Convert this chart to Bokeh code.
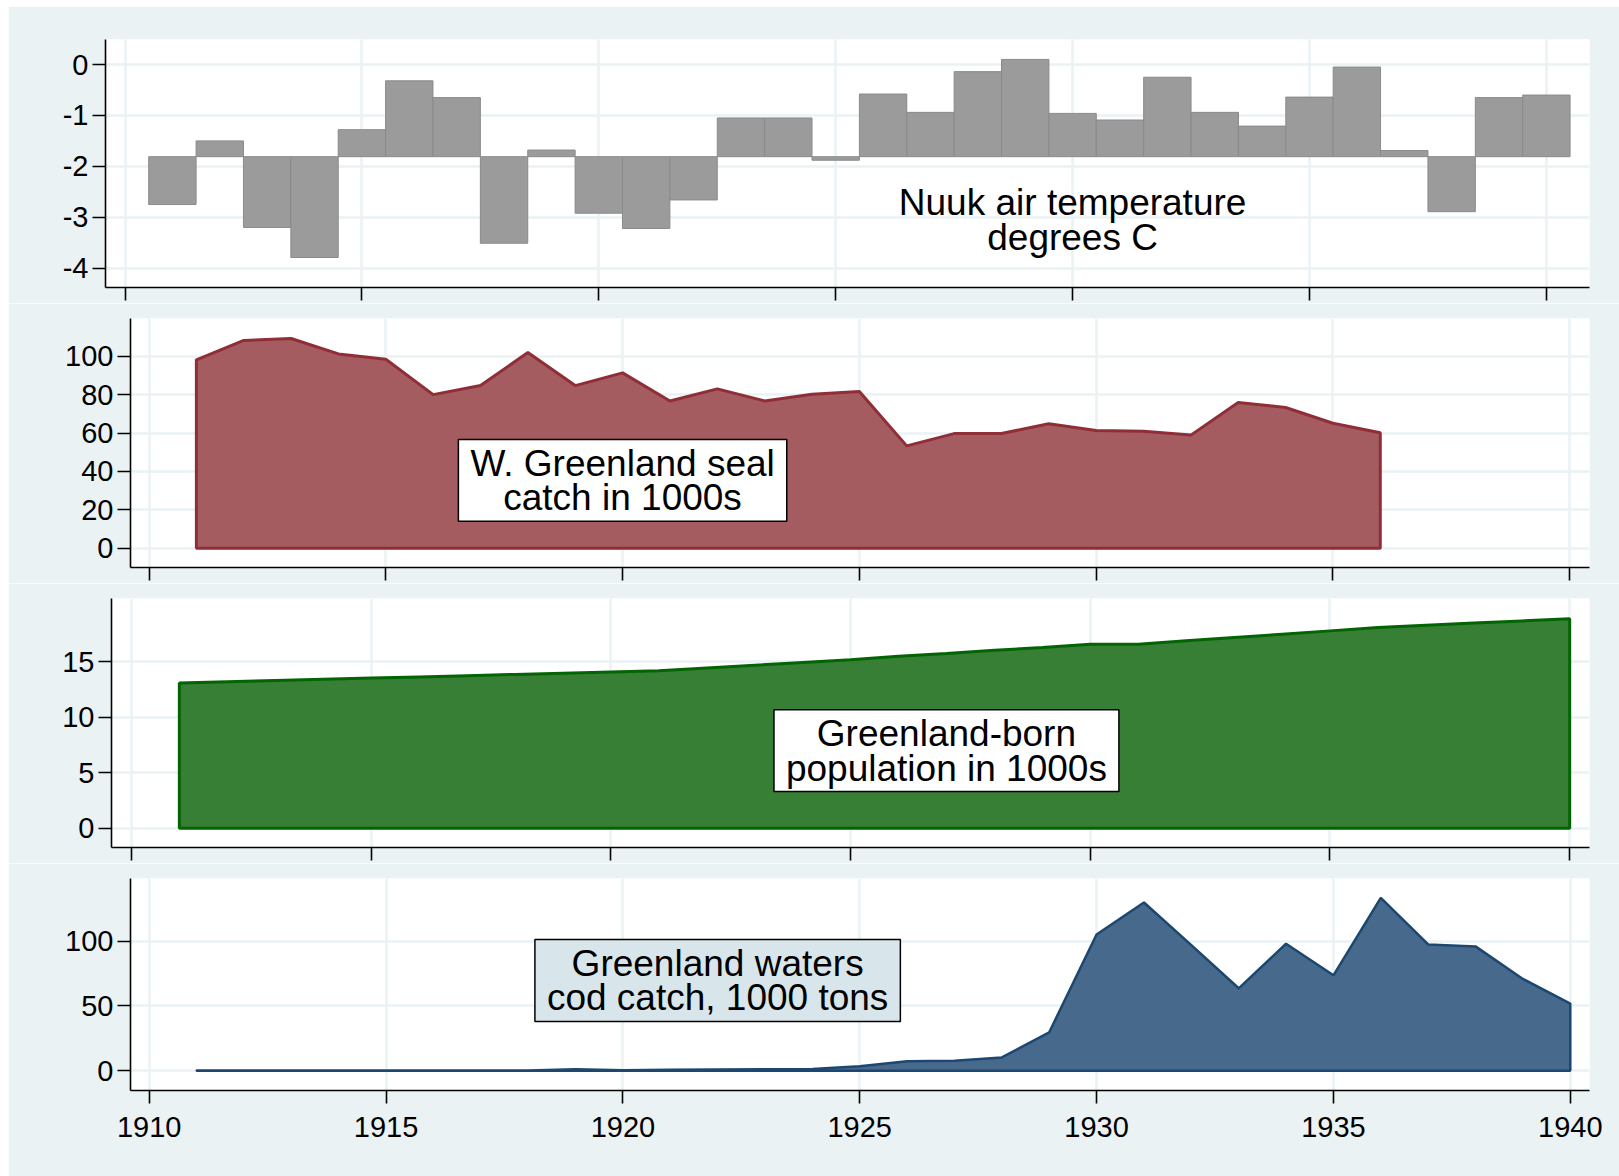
import numpy as np
from bokeh.plotting import figure
from bokeh.layouts import column
from bokeh.models import Range1d, FixedTicker, Label
from bokeh.embed import file_html
from bokeh.resources import INLINE

# ---------------- data ----------------
years = list(range(1911, 1941))
temp_c = [-2.75, -1.50, -3.20, -3.79, -1.28, -0.32, -0.65, -3.51, -1.68, -2.92,
          -3.22, -2.66, -1.05, -1.05, -1.88, -0.58, -0.94, -0.14, 0.10, -0.96,
          -1.09, -0.25, -0.94, -1.21, -0.64, -0.05, -1.69, -2.89, -0.65, -0.60]
temp_base = -1.81

seal_years = list(range(1911, 1937))
seal_catch = [98.1, 108.2, 109.2, 101.2, 98.4, 80.0, 84.7, 101.9, 84.7, 91.3,
              76.7, 83.0, 76.7, 80.2, 81.6, 53.3, 59.7, 59.7, 64.8, 61.3,
              60.9, 58.9, 75.9, 73.3, 65.1, 60.1]

pop_years = list(range(1911, 1941))
population = [13.10, 13.21, 13.32, 13.43, 13.54, 13.65, 13.76, 13.87, 13.98, 14.09,
              14.20, 14.45, 14.70, 14.95, 15.20, 15.50, 15.75, 16.05, 16.30, 16.60,
              16.60, 16.90, 17.20, 17.50, 17.80, 18.10, 18.30, 18.50, 18.70, 18.90]

cod_years = list(range(1911, 1941))
cod_catch = [0.2, 0.2, 0.2, 0.2, 0.2, 0.2, 0.2, 0.3, 1.2, 0.4,
             0.8, 1.0, 1.2, 1.4, 3.6, 7.4, 7.7, 10.3, 29.7, 105.1,
             129.7, 96.9, 63.6, 97.9, 73.6, 133.3, 97.4, 95.9, 70.8, 51.8]

x_ticks = [1910, 1915, 1920, 1925, 1930, 1935, 1940]
temp_ticks = [0, -1, -2, -3, -4]
seal_ticks = [0, 20, 40, 60, 80, 100]
pop_ticks = [0, 5, 10, 15]
cod_ticks = [0, 50, 100]

temp_label = "Nuuk air temperature\ndegrees C"
seal_label = "W. Greenland seal\ncatch in 1000s"
pop_label = "Greenland-born\npopulation in 1000s"
cod_label = "Greenland waters\ncod catch, 1000 tons"

# ---------------- style ----------------
BG = "#EAF2F3"
FONT = "Liberation Sans"
W = 1611


def panel(height, xr, yr, yticks, left, top, bottom, show_x):
    p = figure(width=W, height=height, x_range=Range1d(*xr), y_range=Range1d(*yr),
               output_backend="svg", toolbar_location=None,
               min_border_left=left, min_border_right=30,
               min_border_top=top, min_border_bottom=bottom,
               background_fill_color="white", border_fill_color=BG,
               outline_line_color=None, frame_align=False)
    p.xaxis.ticker = FixedTicker(ticks=x_ticks)
    p.yaxis.ticker = FixedTicker(ticks=yticks)
    p.yaxis.major_label_overrides = {t: str(t) for t in yticks}
    for ax in (p.xaxis[0], p.yaxis[0]):
        ax.axis_line_color = "black"
        ax.axis_line_width = 1.6
        ax.major_tick_line_color = "black"
        ax.major_tick_line_width = 1.6
        ax.major_tick_out = 13
        ax.major_tick_in = 0
        ax.minor_tick_line_color = None
        ax.major_label_text_font = FONT
        ax.major_label_text_font_size = "29px"
        ax.major_label_text_color = "black"
    p.yaxis.major_label_standoff = 4
    if show_x:
        p.xaxis.major_label_standoff = 13
    else:
        p.xaxis.major_label_text_font_size = "1px"
        p.xaxis.major_label_text_color = None
        p.xaxis.major_label_standoff = 0
    p.xgrid.grid_line_color = BG
    p.ygrid.grid_line_color = BG
    p.xgrid.grid_line_width = 2.5
    p.ygrid.grid_line_width = 2.5
    return p


def add_label(p, x, y, text, fill=None):
    kw = dict(x=x, y=y, text=text, text_align="center", text_baseline="middle",
              text_font=FONT, text_font_size="37px", text_line_height=0.85,
              text_color="black")
    if fill is not None:
        kw.update(background_fill_color=fill, border_line_color="black",
                  border_line_width=1.5,
                  padding=dict(left=12, right=12, top=3, bottom=3))
    p.add_layout(Label(**kw))


def closed(xs, ys):
    xs = np.asarray(xs, dtype=float)
    ys = np.asarray(ys, dtype=float)
    return (np.concatenate([[xs[0]], xs, [xs[-1]]]),
            np.concatenate([[0.0], ys, [0.0]]))


# Panel 1: temperature bars
p1 = panel(297, (1909.588, 1940.91), (-4.379, 0.491), temp_ticks, 97, 33, 16, False)
p1.vbar(x=years, width=1, bottom=temp_base, top=temp_c,
        fill_color="#9B9B9B", line_color="#8A8A8A", line_width=1)
add_label(p1, 1930, -3.05, temp_label)

# Panel 2: seal catch
p2 = panel(280, (1909.609, 1940.418), (-10.05, 119.64), seal_ticks, 122, 15, 16, False)
sx, sy = closed(seal_years, seal_catch)
p2.patch(x=sx, y=sy, fill_color="#A45C61", line_color="#902E37", line_width=3)
add_label(p2, 1920, 35.3, seal_label, fill="white")

# Panel 3: population
p3 = panel(280, (1909.585, 1940.413), (-1.74, 20.72), pop_ticks, 103, 15, 16, False)
px, py = closed(pop_years, population)
p3.patch(x=px, y=py, fill_color="#367F34", line_color="#036404", line_width=3)
add_label(p3, 1927, 7.0, pop_label, fill="white")

# Panel 4: cod catch
p4 = panel(313, (1909.605, 1940.406), (-15.15, 148.2), cod_ticks, 122, 15, 86, True)
cx, cy = closed(cod_years, cod_catch)
p4.patch(x=cx, y=cy, fill_color="#476A8C", line_color="#1B4770", line_width=2.5)
add_label(p4, 1922, 69.6, cod_label, fill="#D8E5EB")

layout = column(p1, p2, p3, p4, spacing=0, margin=(6, 0, 0, 8))
open("out.html", "w").write(file_html(layout, INLINE))
